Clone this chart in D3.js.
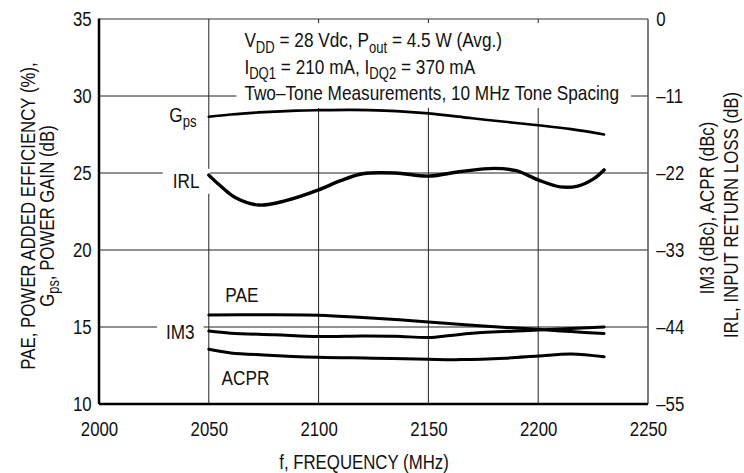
<!DOCTYPE html>
<html>
<head>
<meta charset="utf-8">
<script src="https://cdn.jsdelivr.net/npm/d3@7"></script>
<style>
  body { margin: 0; background: #fff; }
  svg text { font-family: "Liberation Sans", Arial, sans-serif; fill: #111; }
</style>
</head>
<body>
<svg width="744" height="473"></svg>
<script>
// frequency (MHz) axis
var freqTicks = [2000, 2050, 2100, 2150, 2200, 2250];
var leftTicks = [10, 15, 20, 25, 30, 35];
var rightTicks = [-55, -44, -33, -22, -11, 0];

// left axis series: Gps (dB), PAE (%)
var gpsFreq = [2050, 2060, 2075, 2090, 2100, 2115, 2130, 2150, 2170, 2190, 2200, 2215, 2230];
var gpsVal  = [28.65, 28.8, 28.95, 29.05, 29.08, 29.1, 29.05, 28.87, 28.55, 28.25, 28.1, 27.85, 27.5];
var paeFreq = [2050, 2075, 2100, 2120, 2150, 2175, 2200, 2215, 2230];
var paeVal  = [15.78, 15.8, 15.77, 15.62, 15.33, 15.06, 14.85, 14.7, 14.58];

// right axis series: IRL (dB), IM3 (dBc), ACPR (dBc)
var irlFreq = [2050, 2055, 2062, 2073, 2085, 2100, 2110, 2120, 2135, 2150, 2165, 2180, 2190, 2200, 2210, 2218, 2225, 2230];
var irlVal  = [-22.3, -23.76, -25.5, -26.58, -25.96, -24.42, -23.1, -22.11, -22.0, -22.44, -21.78, -21.34, -21.67, -22.99, -23.98, -23.87, -22.88, -21.56];
var im3Freq = [2050, 2060, 2080, 2100, 2120, 2135, 2150, 2160, 2170, 2200, 2230];
var im3Val  = [-44.57, -44.88, -45.1, -45.36, -45.28, -45.32, -45.5, -45.21, -44.9, -44.44, -44.0];
var acprFreq = [2050, 2060, 2075, 2100, 2125, 2150, 2165, 2185, 2200, 2215, 2230];
var acprVal  = [-47.19, -47.7, -48.0, -48.33, -48.45, -48.62, -48.66, -48.45, -48.14, -47.85, -48.25];

var NARROW = 0.82; // squeeze text like a condensed face

function main(){
    var svg = d3.select("svg");
    var left = 99, right = 648, top = 19, bottom = 404;

    // scales
    var x = d3.scaleLinear().domain([2000, 2250]).range([left, right]);
    var yL = d3.scaleLinear().domain([10, 35]).range([bottom, top]);
    var yR = d3.scaleLinear().domain([-55, 0]).range([bottom, top]);

    // gridlines
    var grid = svg.append("g");
    grid.selectAll(".hg").data(leftTicks.slice(1, -1)).enter().append("line")
        .attr("x1", left).attr("x2", right)
        .attr("y1", function(d){ return yL(d); }).attr("y2", function(d){ return yL(d); })
        .attr("stroke", "#222").attr("stroke-width", 1);
    grid.selectAll(".vg").data(freqTicks.slice(1, -1)).enter().append("line")
        .attr("y1", top).attr("y2", bottom)
        .attr("x1", function(d){ return x(d); }).attr("x2", function(d){ return x(d); })
        .attr("stroke", "#222").attr("stroke-width", 1);

    // layer for white label backgrounds (breaks gridlines)
    var bgLayer = svg.append("g");

    // frame
    svg.append("line").attr("x1", left).attr("x2", right).attr("y1", top).attr("y2", top)
        .attr("stroke", "#333").attr("stroke-width", 1);
    svg.append("line").attr("x1", right).attr("x2", right).attr("y1", top).attr("y2", bottom)
        .attr("stroke", "#555").attr("stroke-width", 1.5);
    svg.append("line").attr("x1", left).attr("x2", left).attr("y1", top - 0.5).attr("y2", bottom)
        .attr("stroke", "#000").attr("stroke-width", 2.5);
    svg.append("line").attr("x1", left).attr("x2", right).attr("y1", bottom).attr("y2", bottom)
        .attr("stroke", "#000").attr("stroke-width", 2.5);

    // axes (labels only)
    var ax = svg.append("g").attr("transform", "translate(0," + bottom + ")")
        .call(d3.axisBottom(x).tickValues(freqTicks).tickSize(0).tickPadding(17).tickFormat(d3.format("d")));
    var ayl = svg.append("g").attr("transform", "translate(" + left + ",0)")
        .call(d3.axisLeft(yL).tickValues(leftTicks).tickSize(0).tickPadding(9));
    var ayr = svg.append("g").attr("transform", "translate(" + right + ",0)")
        .call(d3.axisRight(yR).tickValues(rightTicks).tickSize(0).tickPadding(10)
            .tickFormat(function(d){ return d < 0 ? "\u2013" + (-d) : d; }));
    [ax, ayl, ayr].forEach(function(a){
        a.select(".domain").remove();
        a.selectAll("text").attr("font-size", 20.5).attr("font-family", null).attr("fill", "#111")
            .attr("transform", "scale(" + NARROW + ",1)");
    });
    ax.selectAll("text").attr("dy", "0.71em");

    // curves
    var line = d3.line().curve(d3.curveCatmullRom.alpha(0.5));
    function drawCurve(fs, vs, scale, w){
        var pts = fs.map(function(f, i){ return [x(f), scale(vs[i])]; });
        svg.append("path").attr("d", line(pts))
            .attr("fill", "none").attr("stroke", "#000").attr("stroke-width", w)
            .attr("stroke-linecap", "round");
    }
    drawCurve(gpsFreq, gpsVal, yL, 2.6);
    drawCurve(irlFreq, irlVal, yR, 3.4);
    drawCurve(paeFreq, paeVal, yL, 3);
    drawCurve(im3Freq, im3Val, yR, 3);
    drawCurve(acprFreq, acprVal, yR, 3);

    // condensed text with subscript parts: [[text, sub], ...]
    function label(g, px, py, parts, size, bg, padX, padY){
        var wrap = g.append("g");
        var t = wrap.append("text")
            .attr("transform", "translate(" + px + "," + py + ") scale(" + NARROW + ",1)")
            .attr("font-size", size);
        var shift = size * 0.26, back = 0;
        parts.forEach(function(p){
            var s = t.append("tspan").text(p[0]);
            if (back) { s.attr("dy", -back); back = 0; }
            if (p[1]) {
                t.append("tspan").attr("font-size", size * 0.76).attr("dy", shift).text(p[1]);
                back = shift;
            }
        });
        if (bg) {
            var b = wrap.node().getBBox();
            bgLayer.append("rect").attr("x", b.x - padX).attr("y", b.y - padY)
                .attr("width", b.width + 2 * padX).attr("height", b.height + 2 * padY)
                .attr("fill", "#fff");
        }
        return wrap;
    }

    var txt = svg.append("g");
    // curve labels
    label(txt, x(2032), yL(28.33), [["G", "ps"]], 21, false);
    label(txt, x(2033.6), yL(24.0), [["IRL"]], 21, true, 10, 1);
    label(txt, x(2057.5), yL(16.62), [["PAE"]], 21, false);
    label(txt, x(2030.5), yL(14.2), [["IM3"]], 21, true, 9, 1);
    label(txt, x(2055.8), yL(11.23), [["ACPR"]], 21, false);

    // conditions block
    var note = txt.append("g");
    var nx = x(2066.2);
    label(note, nx, 47.3, [["V", "DD"], [" = 28 Vdc, P", "out"], [" = 4.5 W (Avg.)"]], 21);
    label(note, nx, 73.5, [["I", "DQ1"], [" = 210 mA, I", "DQ2"], [" = 370 mA"]], 21);
    label(note, nx, 99.5, [["Two\u2013Tone Measurements, 10 MHz Tone Spacing"]], 21);
    var nb = note.node().getBBox();
    bgLayer.append("rect").attr("x", nb.x - 8).attr("y", top + 4)
        .attr("width", nb.width + 20).attr("height", 108 - top - 4).attr("fill", "#fff");

    // axis titles
    label(svg, 0, 0, [["f, FREQUENCY (MHz)"]], 20.5).select("text")
        .attr("transform", "translate(364,469) scale(" + NARROW + ",1)").attr("text-anchor", "middle");
    var lt = svg.append("g").attr("transform", "translate(35,216) rotate(-90)");
    label(lt, 0, 0, [["PAE, POWER ADDED EFFICIENCY (%),"]], 20.5).select("text").attr("text-anchor", "middle");
    label(lt, 0, 19, [["G", "ps"], [", POWER GAIN (dB)"]], 20.5).select("text").attr("text-anchor", "middle");
    var rt = svg.append("g").attr("transform", "translate(714,208) rotate(-90)");
    label(rt, 0, 0, [["IM3 (dBc), ACPR (dBc)"]], 20.5).select("text").attr("text-anchor", "middle");
    var rt2 = svg.append("g").attr("transform", "translate(738,215) rotate(-90)");
    label(rt2, 0, 0, [["IRL, INPUT RETURN LOSS (dB)"]], 20.5).select("text").attr("text-anchor", "middle");
}
main();
</script>
</body>
</html>
